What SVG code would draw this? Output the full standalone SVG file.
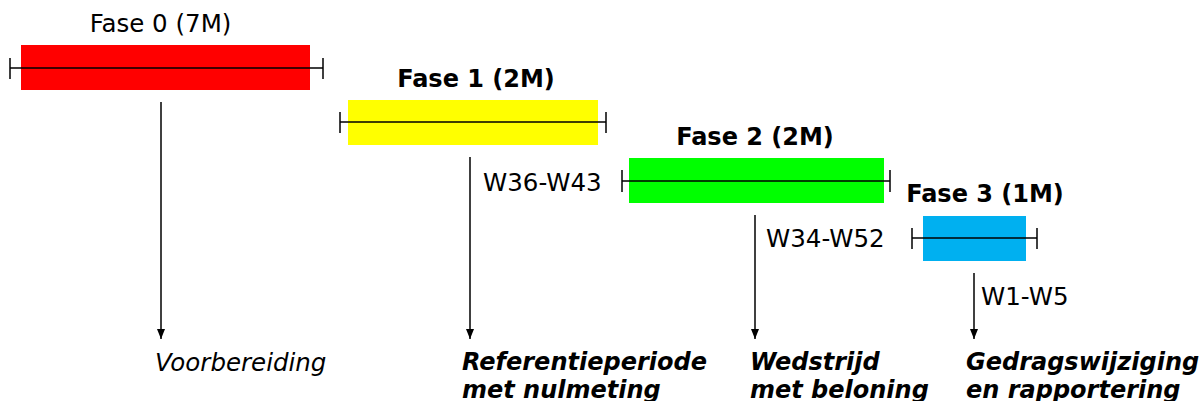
<svg xmlns="http://www.w3.org/2000/svg" width="1202" height="401" viewBox="0 0 1202 401">
<style>
text{font-family:"DejaVu Sans",Verdana,sans-serif;font-size:24.5px;fill:#000}
.b{font-weight:bold;font-size:24px}
.i{font-style:italic}
.bar{stroke:#000;stroke-width:1.5;fill:none}
.con{stroke:#000;stroke-width:1.5;fill:none;marker-end:url(#ah)}
</style>
<defs>
<marker id="ah" viewBox="0 0 10 10" refX="10" refY="5" markerWidth="10" markerHeight="10" markerUnits="userSpaceOnUse" orient="auto">
<path d="M0,1 L10,5 L0,9 z" fill="#000"/>
</marker>
</defs>
<g id="fase0">
<rect x="21" y="45" width="289" height="45" fill="#ff0000"/>
<path class="bar" d="M10,68H323M10,58V79M323,58V79"/>
<text x="160.5" y="32" text-anchor="middle">Fase 0 (7M)</text>
</g>
<g id="fase1">
<rect x="348" y="100" width="250" height="45" fill="#ffff00"/>
<path class="bar" d="M340,122H606M340,112V133M606,112V133"/>
<text class="b" x="476" y="87" text-anchor="middle">Fase 1 (2M)</text>
</g>
<g id="fase2">
<rect x="629" y="158" width="255" height="45" fill="#00ff00"/>
<path class="bar" d="M622,181H890M622,170V192M890,170V192"/>
<text class="b" x="755" y="145" text-anchor="middle">Fase 2 (2M)</text>
</g>
<g id="fase3">
<rect x="923" y="216" width="103" height="45" fill="#00b0f0"/>
<path class="bar" d="M912,238H1037M912,228V249M1037,228V249"/>
<text class="b" x="985" y="202" text-anchor="middle">Fase 3 (1M)</text>
</g>
<g id="connectors">
<path class="con" d="M161,102V339"/>
<path class="con" d="M470,157V339"/>
<path class="con" d="M755,215V339"/>
<path class="con" d="M974,273V339"/>
</g>
<g id="labels">
<text x="483" y="191">W36-W43</text>
<text x="766" y="247">W34-W52</text>
<text x="981" y="305">W1-W5</text>
</g>
<g id="out0"><text class="i" x="155" y="371">Voorbereiding</text></g>
<g id="out1"><text class="b i" x="462" y="370">Referentieperiode</text><text class="b i" x="462" y="398">met nulmeting</text></g>
<g id="out2"><text class="b i" x="750" y="370">Wedstrijd</text><text class="b i" x="750" y="398">met beloning</text></g>
<g id="out3"><text class="b i" x="966" y="370">Gedragswijziging</text><text class="b i" x="966" y="398">en rapportering</text></g>
</svg>
